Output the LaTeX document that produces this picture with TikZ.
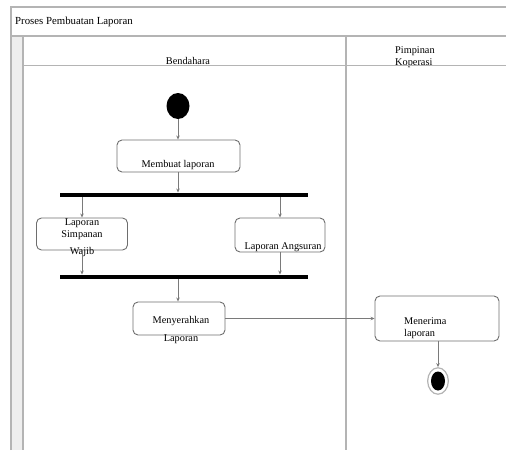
\documentclass[tikz,border=0pt]{standalone}
\usepackage{fontspec}
\setmainfont{Liberation Serif}
\usetikzlibrary{arrows.meta,shapes.geometric}

\definecolor{frameline}{HTML}{B4B4B4}
\definecolor{stripfill}{HTML}{EEEEEE}
\definecolor{boxline}{HTML}{6E6E6E}
\definecolor{flowline}{HTML}{7A7A7A}

\tikzset{
  frame/.style={draw=frameline, line width=1.6pt},
  actbox/.style={draw=boxline, line width=0.9pt, rounded corners=5pt,
    rectangle, inner sep=0pt},
  bar/.style={fill=black, draw=none, rectangle, inner sep=0pt,
    minimum width=248pt, minimum height=4.5pt},
  lbl/.style={font=\fontsize{10.3}{10.5}\selectfont, inner sep=0pt},
  flow/.style={draw=flowline, line width=0.7pt,
    -{Stealth[length=4pt,width=3.5pt]}},
}

\begin{document}
\begin{tikzpicture}[x=1pt,y=-1pt]
  \useasboundingbox (0,0) rectangle (506,450);

  % swimlane frame
  \fill[stripfill] (11,36) rectangle (23,450);
  \draw[frame] (11,450) -- (11,7) -- (506,7);
  \draw[frame] (11,36) -- (506,36);
  \draw[frame] (23,36) -- (23,450);
  \draw[frame] (346,36) -- (346,450);

  \node[lbl, anchor=west, font=\fontsize{10.8}{11}\selectfont] (title) at (15,22)
    {Proses Pembuatan Laporan};
  \node[lbl] (laneA) at (188,61) {Bendahara};
  \node[lbl, anchor=west, align=left] (laneB) at (395,57)
    {Pimpinan\\[1.5pt]Koperasi};
  \draw[frame] (23,65.5) -- (506,65.5);

  % activity nodes
  \node[ellipse, fill=black, minimum width=23pt, minimum height=26pt,
    inner sep=0pt] (start) at (178,106) {};
  \node[actbox, minimum width=123pt, minimum height=32pt] (b1) at (178.5,156) {};
  \node[lbl] (t1) at (178,165) {Membuat laporan};

  \node[bar] (fork) at (184,195) {};

  \node[actbox, minimum width=91pt, minimum height=32pt] (b2) at (82,234) {};
  \node[lbl, align=center] (t2) at (82,237.5)
    {Laporan\\[1.5pt]Simpanan\\[6.5pt]Wajib};
  \node[actbox, minimum width=90pt, minimum height=34pt] (b3) at (280,235) {};
  \node[lbl] (t3) at (283,247) {Laporan Angsuran};

  \node[bar] (join) at (184,277) {};

  \node[actbox, minimum width=92pt, minimum height=33pt] (b4) at (179,318.5) {};
  \node[lbl, align=center] (t4) at (181,330) {Menyerahkan\\[7.5pt]Laporan};

  \node[actbox, minimum width=124pt, minimum height=45pt] (b5) at (437,318.5) {};
  \node[lbl, anchor=west, align=left] (t5) at (404,328)
    {Menerima\\[1.5pt]laporan};

  \node[circle, draw=frameline, line width=1.2pt, fill=white,
    minimum width=23pt, inner sep=0pt, xscale=0.9, yscale=1.15] (end) at (438,381) {};
  \node[ellipse, fill=black, minimum width=14pt, minimum height=19pt,
    inner sep=0pt] (endcore) at (438,381) {};

  % control flow
  \draw[flow] (start.south) -- (b1.north -| start.south);
  \draw[flow] (b1.south -| start.south) -- (fork.north -| start.south);
  \draw[flow] (fork.south -| b2.north) -- (b2.north);
  \draw[flow] (fork.south -| b3.north) -- (b3.north);
  \draw[flow] (b2.south) -- (join.north -| b2.south);
  \draw[flow] (b3.south) -- (join.north -| b3.south);
  \draw[flow] (join.south -| start.south) -- (b4.north -| start.south);
  \draw[flow] (b4.east) -- (b5.west);
  \draw[flow] (b5.south -| end.north) -- (end.north);
\end{tikzpicture}
\end{document}
